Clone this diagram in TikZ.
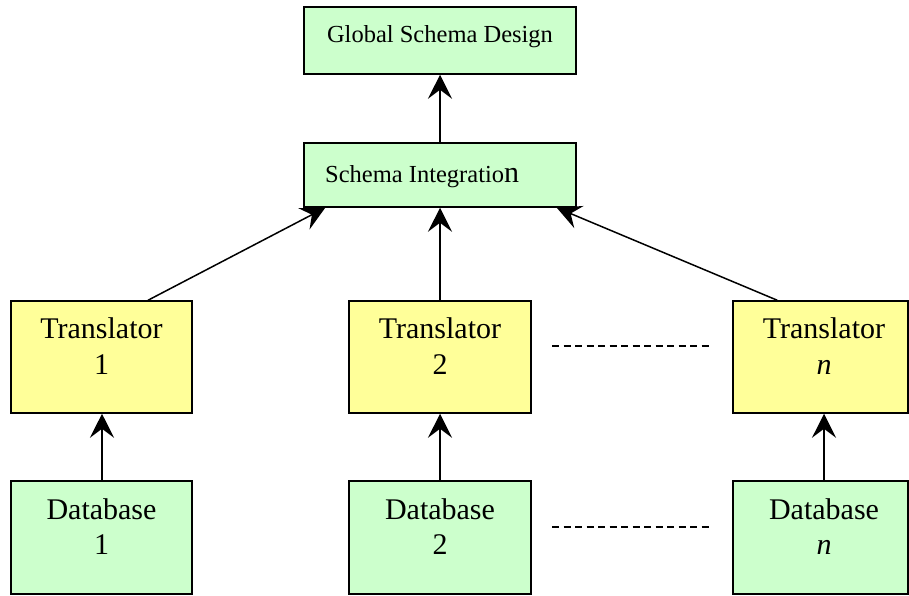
\documentclass[tikz,border=0pt]{standalone}
\usepackage{fontspec}
\setmainfont{Liberation Serif}
\usetikzlibrary{arrows.meta,calc}
\definecolor{boxgreen}{HTML}{CCFFCC}
\definecolor{boxyellow}{HTML}{FFFF99}
\begin{document}
\begin{tikzpicture}[x=1pt,y=-1pt,
  box/.style={draw=black,line width=1.5pt,rectangle,inner sep=0pt},
  gbox/.style={box,fill=boxgreen},
  ybox/.style={box,fill=boxyellow},
  big/.style={font=\fontsize{30}{36}\selectfont,anchor=base,inner sep=0pt},
  small/.style={font=\fontsize{24.5}{29}\selectfont,anchor=base,inner sep=0pt},
  conn/.style={line width=1.5pt,-{Stealth[length=24pt,width=24pt,inset=9pt]}},
  dots/.style={line width=1.1pt,dash pattern=on 7pt off 4.5pt}]
\useasboundingbox (0,0) rectangle (909,595);
% boxes
\node[gbox,minimum width=272pt,minimum height=67pt] (gsd) at (440,40.5) {};
\node[gbox,minimum width=272pt,minimum height=64pt] (si) at (440,175) {};
\node[ybox,minimum width=181pt,minimum height=112pt] (t1) at (101.5,357) {};
\node[ybox,minimum width=182pt,minimum height=112pt] (t2) at (440,357) {};
\node[ybox,minimum width=175pt,minimum height=112pt] (tn) at (820.5,357) {};
\node[gbox,minimum width=181pt,minimum height=113pt] (d1) at (101.5,537.5) {};
\node[gbox,minimum width=182pt,minimum height=113pt] (d2) at (440,537.5) {};
\node[gbox,minimum width=175pt,minimum height=113pt] (dn) at (820.5,537.5) {};
% texts
\node[small] (gsdt) at (440,42) {Global Schema Design};
\node[small,anchor=base west] (sit) at (325,182) {Schema Integratio{\fontsize{30}{36}\selectfont n}};
\node[big] (t1a) at (101.5,338) {Translator};
\node[big] (t1b) at (101.5,374) {1};
\node[big] (t2a) at (440,338) {Translator};
\node[big] (t2b) at (440,374) {2};
\node[big] (tna) at (824,338) {Translator};
\node[big] (tnb) at (824,374) {\textit{n}};
\node[big] (d1a) at (101.5,519) {Database};
\node[big] (d1b) at (101.5,554) {1};
\node[big] (d2a) at (440,519) {Database};
\node[big] (d2b) at (440,554) {2};
\node[big] (dna) at (824,519) {Database};
\node[big] (dnb) at (824,554) {\textit{n}};
% connectors
\draw[conn] (si.north) -- (gsd.south);
\draw[conn] ($(t1.north)+(46.5,0)$) -- ($(si.south west)+(22,0)$);
\draw[conn] (t2.north) -- (si.south);
\draw[conn] ($(tn.north west)+(45,0)$) -- ($(si.south east)+(-20,0)$);
\draw[conn] ($(d1.north)+(0.5,0)$) -- ($(t1.south)+(0.5,0)$);
\draw[conn] (d2.north) -- (t2.south);
\draw[conn] ($(dn.north)+(3.5,0)$) -- ($(tn.south)+(3.5,0)$);
% dashed separators
\coordinate (ta) at (552,346);
\coordinate (tb) at (712,346);
\coordinate (da) at (552,527);
\coordinate (db) at (712,527);
\draw[dots] (ta) -- (tb);
\draw[dots] (da) -- (db);
\end{tikzpicture}
\end{document}
